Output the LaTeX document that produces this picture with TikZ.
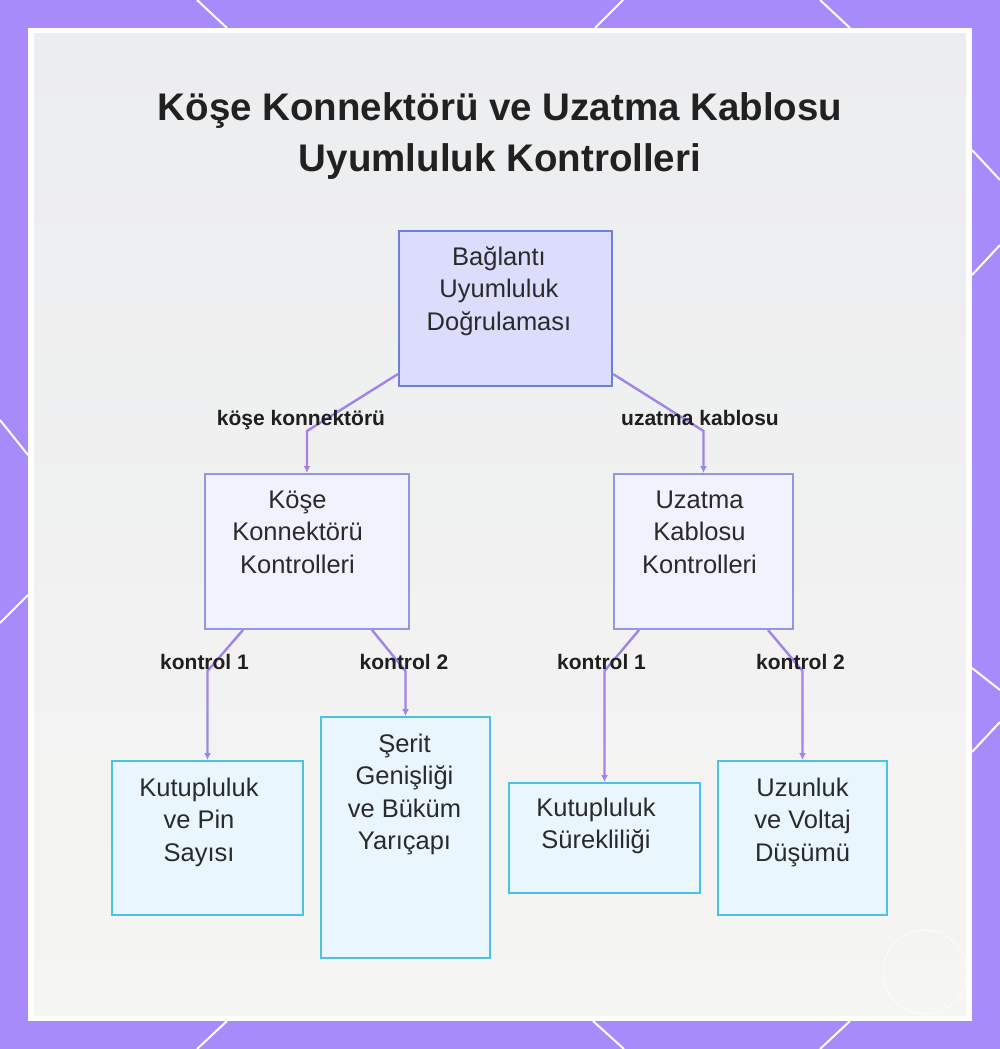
\documentclass[tikz,border=0pt]{standalone}
\usepackage{fontspec}
\setmainfont{Liberation Sans}
\usetikzlibrary{arrows.meta,calc}
\definecolor{framec}{HTML}{A78BFA}
\definecolor{edgec}{HTML}{A283EA}
\definecolor{topfill}{HTML}{DCDDFC}
\definecolor{topdraw}{HTML}{6E7FD9}
\definecolor{midfill}{HTML}{F1F2FD}
\definecolor{middraw}{HTML}{8F97E6}
\definecolor{botfill}{HTML}{E9F6FD}
\definecolor{botdraw}{HTML}{4DC0E6}
\definecolor{txt}{HTML}{2A2A2A}
\definecolor{panelTop}{HTML}{ECEDEF}
\definecolor{panelBot}{HTML}{F5F5F3}
\begin{document}
\begin{tikzpicture}[x=1pt,y=-1pt,
  boxbase/.style={line width=2pt, inner sep=0pt, rectangle},
  topbox/.style={boxbase, draw=topdraw, fill=topfill},
  midbox/.style={boxbase, draw=middraw, fill=midfill},
  botbox/.style={boxbase, draw=botdraw, fill=botfill},
  boxtext/.style={anchor=base, inner sep=0pt, text=txt, font=\fontsize{25.5}{32.5}\selectfont},
  elabel/.style={anchor=base, inner sep=0pt, text=black!88, font=\bfseries\fontsize{21}{25}\selectfont},
  edge/.style={draw=edgec, line width=2.4pt, -{Latex[length=7pt,width=7pt]}},
  deco/.style={white, line width=2pt}
]
\useasboundingbox (0,0) rectangle (1000,1049);
% background
\fill[framec] (0,0) rectangle (1000,1049);
\draw[deco] (197,0) -- (227,28);
\draw[deco] (623,0) -- (595,28);
\draw[deco] (820,0) -- (850,28);
\draw[deco] (227,1021) -- (197,1049);
\draw[deco] (593,1021) -- (624,1049);
\draw[deco] (850,1021) -- (820,1049);
\draw[deco] (0,420) -- (28,455);
\draw[deco] (28,595) -- (0,623);
\draw[deco] (972,150) -- (1000,180);
\draw[deco] (972,275) -- (1000,245);
\draw[deco] (972,668) -- (1000,690);
\draw[deco] (972,752) -- (1000,722);
\fill[white] (28,28) rectangle (972,1021);
\fill[top color=panelTop, bottom color=panelBot] (34,34) rectangle (966,1015);
\draw[white, line width=1pt, dash pattern=on 3pt off 1.5pt, opacity=.9] (925,972) circle[radius=42pt];

% title
\node[anchor=base, inner sep=0pt, text=black!87, font=\bfseries\fontsize{38.5}{51}\selectfont] (title) at (500,120)
  {\begin{tabular}[t]{@{}c@{}}Köşe Konnektörü ve Uzatma Kablosu\\Uyumluluk Kontrolleri\end{tabular}};

% boxes
\node[topbox, minimum width=213pt, minimum height=155pt] (top) at (505.5,308.5) {};
\node[midbox, minimum width=204pt, minimum height=155pt] (kose) at (307,551.5) {};
\node[midbox, minimum width=179pt, minimum height=155pt] (uza) at (703.5,551.5) {};
\node[botbox, minimum width=191pt, minimum height=154pt] (kut) at (207.5,838) {};
\node[botbox, minimum width=169pt, minimum height=241pt] (ser) at (405.5,837.5) {};
\node[botbox, minimum width=191pt, minimum height=110pt] (ks) at (604.5,838) {};
\node[botbox, minimum width=169pt, minimum height=154pt] (uz) at (802.5,838) {};

% box texts
\node[boxtext] (topT) at (499,265) {\begin{tabular}[t]{@{}c@{}}Bağlantı\\Uyumluluk\\Doğrulaması\end{tabular}};
\node[boxtext] (koseT) at (297.5,508) {\begin{tabular}[t]{@{}c@{}}Köşe\\Konnektörü\\Kontrolleri\end{tabular}};
\node[boxtext] (uzaT) at (699.5,508) {\begin{tabular}[t]{@{}c@{}}Uzatma\\Kablosu\\Kontrolleri\end{tabular}};
\node[boxtext] (kutT) at (199,796) {\begin{tabular}[t]{@{}c@{}}Kutupluluk\\ve Pin\\Sayısı\end{tabular}};
\node[boxtext] (serT) at (404.5,752) {\begin{tabular}[t]{@{}c@{}}Şerit\\Genişliği\\ve Büküm\\Yarıçapı\end{tabular}};
\node[boxtext] (ksT) at (596,816) {\begin{tabular}[t]{@{}c@{}}Kutupluluk\\Sürekliliği\end{tabular}};
\node[boxtext] (uzT) at (802.5,796) {\begin{tabular}[t]{@{}c@{}}Uzunluk\\ve Voltaj\\Düşümü\end{tabular}};

% bends
\coordinate (bk) at ($(kose.north)+(0,-42)$);
\coordinate (bu) at ($(uza.north)+(0,-42)$);
\coordinate (b1) at ($(kut.north)+(0,-89)$);
\coordinate (b2) at ($(ser.north)+(0,-45)$);
\coordinate (b3) at ($(ks.north)+(0,-111)$);
\coordinate (b4) at ($(uz.north)+(0,-89)$);

% edges
\draw[edge] ($(top.south west)+(0,-13)$) -- (bk) -- (kose.north);
\draw[edge] ($(top.south east)+(0,-13)$) -- (bu) -- (uza.north);
\draw[edge] ($(kose.south west)+(39,0)$) -- (b1) -- (kut.north);
\draw[edge] ($(kose.south east)+(-38,0)$) -- (b2) -- (ser.north);
\draw[edge] ($(uza.south west)+(26,0)$) -- (b3) -- (ks.north);
\draw[edge] ($(uza.south east)+(-26,0)$) -- (b4) -- (uz.north);

% edge labels
\node[elabel] (l1) at (301,425) {köşe konnektörü};
\node[elabel] (l2) at (700,425) {uzatma kablosu};
\node[elabel] (l3) at (204.5,669) {kontrol 1};
\node[elabel] (l4) at (404,669) {kontrol 2};
\node[elabel] (l5) at (601.5,669) {kontrol 1};
\node[elabel] (l6) at (800.5,669) {kontrol 2};
\end{tikzpicture}
\end{document}
